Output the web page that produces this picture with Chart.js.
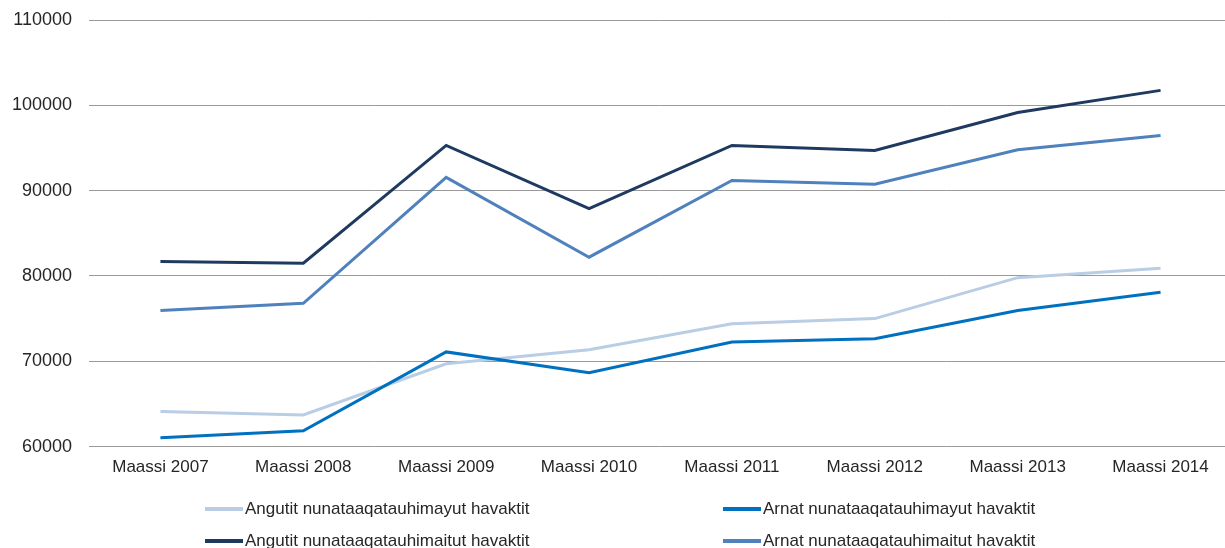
<!DOCTYPE html>
<html>
<head>
<meta charset="utf-8">
<script src="https://cdn.jsdelivr.net/npm/chart.js@4/dist/chart.umd.min.js"></script>
<style>
  html, body { margin: 0; padding: 0; background: #fff; overflow: hidden; }
  #wrap { width: 1232px; height: 560px; }
</style>
</head>
<body>
<div id="wrap"><canvas id="chart" width="1232" height="560"></canvas></div>
<script>
const categories = ['Maassi 2007', 'Maassi 2008', 'Maassi 2009', 'Maassi 2010', 'Maassi 2011', 'Maassi 2012', 'Maassi 2013', 'Maassi 2014'];
const seriesNames = [
  'Angutit nunataaqatauhimayut havaktit',
  'Arnat nunataaqatauhimayut havaktit',
  'Angutit nunataaqatauhimaitut havaktit',
  'Arnat nunataaqatauhimaitut havaktit'
];
const angutitMayut = [64100, 63700, 69700, 71350, 74400, 75000, 79800, 80900];
const arnatMayut = [61050, 61850, 71100, 68650, 72250, 72650, 75950, 78100];
const angutitMaitut = [81700, 81500, 95300, 87900, 95300, 94700, 99150, 101750];
const arnatMaitut = [75950, 76800, 91550, 82200, 91200, 90750, 94800, 96450];
const yTicks = [60000, 70000, 80000, 90000, 100000, 110000];

const colors = ['#B9CDE5', '#0070C0', '#1F3A60', '#4F81BD'];
const values = [angutitMayut, arnatMayut, angutitMaitut, arnatMaitut];

// legend laid out in two columns like the original
const legendCols = [205, 723];
const legendRows = [509, 541];

const gridLegend = {
  id: 'gridLegend',
  afterDraw(chart) {
    const ctx = chart.ctx;
    ctx.save();
    ctx.font = '17px "Liberation Sans", Arial, sans-serif';
    ctx.textBaseline = 'middle';
    chart.data.datasets.forEach((ds, i) => {
      const x = legendCols[i % 2];
      const y = legendRows[Math.floor(i / 2)];
      ctx.strokeStyle = ds.borderColor;
      ctx.lineWidth = 4;
      ctx.beginPath();
      ctx.moveTo(x, y);
      ctx.lineTo(x + 38, y);
      ctx.stroke();
      ctx.fillStyle = '#262626';
      ctx.fillText(ds.label, x + 40, y);
    });
    ctx.restore();
  }
};

new Chart(document.getElementById('chart'), {
  type: 'line',
  data: {
    labels: categories,
    datasets: seriesNames.map((name, i) => ({
      label: name,
      data: values[i],
      borderColor: colors[i],
      backgroundColor: colors[i],
      borderWidth: 3,
      pointRadius: 0,
      tension: 0,
      order: 4 - i
    }))
  },
  options: {
    responsive: false,
    animation: false,
    layout: { padding: { left: 12, top: 20, right: 0, bottom: 71 } },
    plugins: { legend: { display: false }, tooltip: { enabled: false } },
    scales: {
      x: {
        offset: true,
        grid: { display: false, drawTicks: false },
        border: { display: false },
        ticks: { color: '#262626', padding: 11, font: { family: '"Liberation Sans", Arial, sans-serif', size: 17 }, maxRotation: 0 }
      },
      y: {
        min: 60000,
        max: 110000,
        afterBuildTicks: axis => { axis.ticks = yTicks.map(v => ({ value: v })); },
        afterFit: axis => {
          // keep the label gap without the doubled padding chart.js adds
          axis.width = 77;
          axis.paddingTop = 11;
          axis.paddingBottom = 11;
        },
        grid: { color: '#9a9a9a', lineWidth: 1, drawTicks: false },
        border: { display: false },
        ticks: {
          color: '#262626',
          padding: 17,
          font: { family: '"Liberation Sans", Arial, sans-serif', size: 18 },
          callback: v => String(v)
        }
      }
    }
  },
  plugins: [gridLegend]
});
</script>
</body>
</html>
